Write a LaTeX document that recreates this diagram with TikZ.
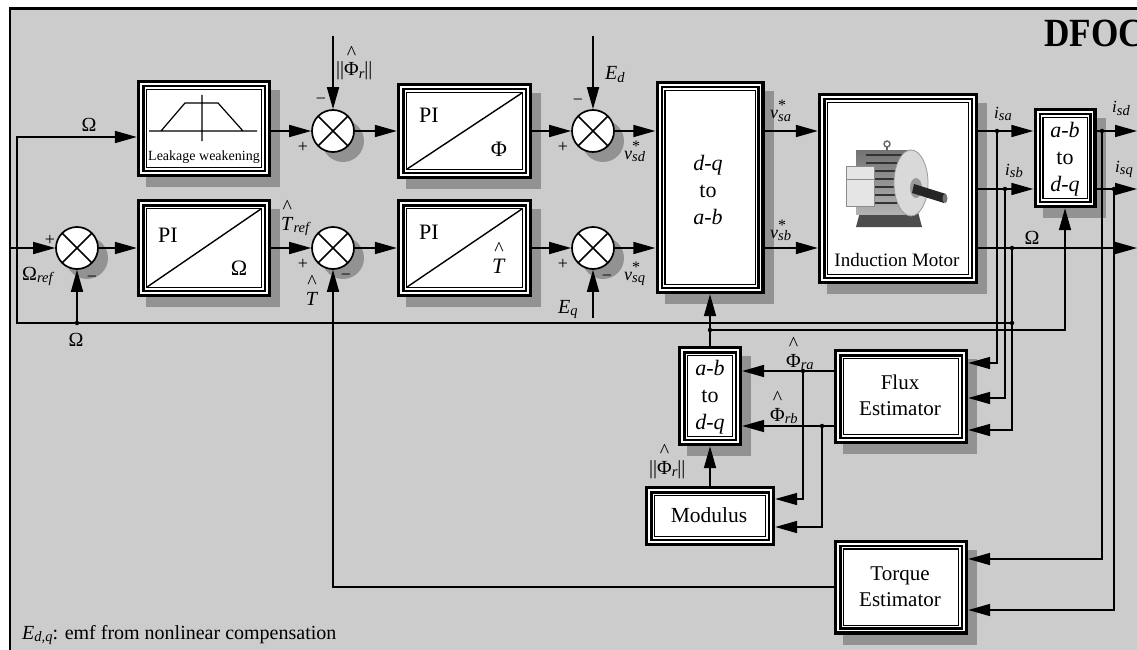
\documentclass[tikz,border=0pt]{standalone}
\usepackage{fontspec}
\setmainfont{Liberation Serif}
\usetikzlibrary{arrows.meta}
\definecolor{bg}{RGB}{204,204,204}
\definecolor{shd}{RGB}{146,146,146}
\newcommand\sbs[1]{\raisebox{-2.5pt}{\fontsize{14.5}{14.5}\selectfont\itshape #1}}
\newcommand\hh[1]{\shortstack{{\fontsize{20}{20}\selectfont\textasciicircum}\\#1}}
\newcommand\vst[2]{{\fontsize{18}{18}\selectfont\textit{#1}}\rlap{\raisebox{8pt}{\fontsize{16}{16}\selectfont *}}\sbs{#2}}
\newcommand\isub[1]{{\fontsize{17}{17}\selectfont\textit{i}}\sbs{#1}}
\newcommand\lay[2]{\fill[#2] ([shift={(#1pt,#1pt)}]path picture bounding box.south west) rectangle ([shift={(-#1pt,-#1pt)}]path picture bounding box.north east);}
\tikzset{
 lw/.style={line width=1.7pt},
 arr/.style={lw, -{Triangle[length=22pt,width=12pt]}},
 layers/.style={path picture={\lay{3.3}{white}\lay{5}{black}\lay{7.5}{white}\lay{8.8}{black}\lay{10}{white}}},
 blk/.style={rectangle, inner sep=0pt, fill=black, layers, preaction={fill=shd, transform canvas={shift={(9pt,-10pt)}}}},
 blkns/.style={rectangle, inner sep=0pt, fill=black, layers},
 sum/.style={circle, minimum size=42pt, inner sep=0pt, fill=white, draw, lw,
   preaction={fill=shd, transform canvas={shift={(10pt,-10pt)}}},
   path picture={\draw[lw] (path picture bounding box.north west) -- (path picture bounding box.south east) (path picture bounding box.north east) -- (path picture bounding box.south west);}},
 dot/.style={circle, fill=black, inner sep=0pt, minimum size=4.5pt},
 lbl/.style={inner sep=0pt, font=\fontsize{20}{22}\selectfont},
 big/.style={inner sep=0pt, font=\fontsize{22}{24}\selectfont},
 pm/.style={inner sep=0pt, font=\fontsize{18}{18}\selectfont},
 stk/.style={inner sep=0pt, align=center, font=\fontsize{22}{27}\selectfont},
}
\begin{document}
\begin{tikzpicture}[x=1pt,y=-1pt]
\useasboundingbox (0,0) rectangle (1137,650);
\fill[white] (0,0) rectangle (1137,650);
\fill[bg] (10,8.5) rectangle (1137,650);
\draw[line width=2.2pt] (10,655) -- (10,8.5) -- (1145,8.5);

% blocks
\node[blk, minimum width=134pt, minimum height=97pt] (leak) at (204,128.5) {};
\node[blk, minimum width=135pt, minimum height=96pt] (pif) at (464.5,131) {};
\node[blk, minimum width=134pt, minimum height=98pt] (pio) at (204,248) {};
\node[blk, minimum width=135pt, minimum height=98pt] (pit) at (464.5,248) {};
\node[blk, minimum width=109pt, minimum height=213pt] (dqab) at (710,187.5) {};
\node[blk, minimum width=160pt, minimum height=191pt] (motor) at (898,188.5) {};
\node[blk, minimum width=63pt, minimum height=100pt] (abdqA) at (1065,158) {};
\node[blk, minimum width=64pt, minimum height=100pt] (abdqB) at (710,396) {};
\node[blk, minimum width=134pt, minimum height=95pt] (flux) at (901,396.5) {};
\node[blkns, minimum width=130pt, minimum height=60pt] (modl) at (710,516) {};
\node[blk, minimum width=134pt, minimum height=95pt] (torq) at (901,587) {};

% summing junctions
\node[sum] (s0) at (77,248) {};
\node[sum] (s1) at (333,131) {};
\node[sum] (s2) at (593,131) {};
\node[sum] (s3) at (333,248) {};
\node[sum] (s4) at (593,248) {};

% leakage weakening graphic
\draw[line width=1.2pt] (149,131) -- (257,131) (202,95) -- (202,141) (161,131) -- (185,103) -- (218,103) -- (243,131);
\node[inner sep=0pt, font=\fontsize{14}{14}\selectfont] (leaktxt) at (204,157) {Leakage weakening};

% PI diagonals
\foreach \b in {pif,pio,pit}{
  \draw[line width=1.4pt] ([shift={(10pt,10pt)}]\b.south west) -- ([shift={(-10pt,-10pt)}]\b.north east);
}

% motor picture
\fill[black!70] (860,212) -- (918,212) -- (922,227) -- (856,227) -- cycle;
\shade[top color=black!55, bottom color=black!30] (856,150) rectangle (912,214);
\foreach \yy in {155,163,...,207} \draw[black!80, line width=2.2pt] (866,\yy) -- (906,\yy);
\fill[black!10] (846,166) rectangle (874,206);
\draw[black!45, line width=0.8pt] (846,166) rectangle (874,206) (846,179) -- (874,179);
\fill[black!15] (911,183) ellipse (17 and 33);
\draw[black!40, line width=0.8pt] (911,183) ellipse (17 and 33);
\fill[black!40] (916,188) ellipse (6 and 10);
\fill[black!85] (914,184) -- (946,194) -- (944,203) -- (912,193) -- cycle;
\fill[black!55] (945,198.5) ellipse (2.5 and 4.5);
\draw[black!60, line width=1.4pt] (887,144) circle (3);
\draw[black!60, line width=1.4pt] (887,147) -- (887,151);

% coordinates
\coordinate (rowD) at (0,131);
\coordinate (rowQ) at (0,248);
\coordinate (rowB) at (0,189);
\coordinate (rowIn) at (0,137);
\coordinate (fa) at (0,363);
\coordinate (fbb) at (0,398);
\coordinate (fc) at (0,430);
\coordinate (pa) at (0,371);
\coordinate (pb) at (0,426);
\coordinate (ma) at (0,499);
\coordinate (mb) at (0,527);
\coordinate (ta) at (0,559);
\coordinate (tb) at (0,610);
\coordinate (inL) at (10,248);
\coordinate (jOm) at (1012,248);
\coordinate (jFb) at (1012,323);
\coordinate (jS0) at (77,323);
\coordinate (cL) at (17,323);
\coordinate (cT) at (17,137);
\coordinate (phiIn) at (333,36);
\coordinate (edIn) at (593,36);
\coordinate (eqIn) at (593,318);
\coordinate (outO) at (1137,248);
\coordinate (outD) at (1137,131);
\coordinate (outQ) at (1137,189);
\coordinate (jA) at (997,131);
\coordinate (jB) at (1005,189);
\coordinate (jD) at (1102,131);
\coordinate (jQ) at (1114,189);
\coordinate (jPa) at (803,371);
\coordinate (jPb) at (822,426);
\coordinate (jTh) at (710,330);

% connectors
\draw[arr] (inL) -- (s0);
\draw[arr] (jFb) -- (cL) -- (cT) -- (leak.west |- rowIn);
\draw[arr] (jS0) -- (s0);
\draw[arr] (leak.east |- rowD) -- (s1);
\draw[arr] (s1) -- (pif);
\draw[arr] (phiIn) -- (s1);
\draw[arr] (pif) -- (s2);
\draw[arr] (edIn) -- (s2);
\draw[arr] (s2) -- (dqab.west |- rowD);
\draw[arr] (s0) -- (pio);
\draw[arr] (pio) -- (s3);
\draw[arr] (s3) -- (pit);
\draw[arr] (pit) -- (s4);
\draw[arr] (s4) -- (dqab.west |- rowQ);
\draw[arr] (eqIn) -- (s4);
\draw[arr] (torq.west) -| (s3.south);
\draw[arr] (dqab.east |- rowD) -- (motor.west |- rowD);
\draw[arr] (dqab.east |- rowQ) -- (motor.west |- rowQ);
\draw[arr] (motor.east |- rowD) -- (abdqA.west |- rowD);
\draw[arr] (motor.east |- rowB) -- (abdqA.west |- rowB);
\draw[arr] (motor.east |- rowQ) -- (outO);
\draw[arr] (abdqA.east |- rowD) -- (outD);
\draw[arr] (abdqA.east |- rowB) -- (outQ);
\draw[arr] (jA) |- (flux.east |- fa);
\draw[arr] (jB) |- (flux.east |- fbb);
\draw[arr] (jOm) |- (flux.east |- fc);
\draw[arr] (jD) |- (torq.east |- ta);
\draw[arr] (jQ) |- (torq.east |- tb);
\draw[arr] (flux.west |- pa) -- (abdqB.east |- pa);
\draw[arr] (flux.west |- pb) -- (abdqB.east |- pb);
\draw[arr] (jPa) |- (modl.east |- ma);
\draw[arr] (jPb) |- (modl.east |- mb);
\draw[arr] (modl) -- (abdqB);
\draw[arr] (abdqB) -- (dqab);
\draw[arr] (jTh) -| (abdqA.south);

% dots
\foreach \p in {jOm,jFb,jS0,jA,jB,jD,jQ,jPa,jPb,jTh}{\node[dot] (dot-\p) at (\p) {};}

% block texts
\node[big] (pifPI) at (429,115) {PI};
\node[big] (pifPhi) at (499,149) {Φ};
\node[big] (pioPI) at (168,235) {PI};
\node[big] (pioOm) at (239,268) {Ω};
\node[big] (pitPI) at (429,232) {PI};
\node[big, anchor=base] (pitT) at (499,273) {\hh{\textit{T}}};
\node[stk] (dqabtxt) at (708,190) {\textit{d-q}\\to\\\textit{a-b}};
\node[stk] (abdqAtxt) at (1065,159.5) {\textit{a-b}\\to\\\textit{d-q}};
\node[stk] (abdqBtxt) at (710,397) {\textit{a-b}\\to\\\textit{d-q}};
\node[stk, font=\fontsize{21}{26}\selectfont] (fluxtxt) at (900,395) {Flux\\Estimator};
\node[stk, font=\fontsize{21}{26}\selectfont] (torqtxt) at (900,586.5) {Torque\\Estimator};
\node[inner sep=0pt, font=\fontsize{21.5}{22}\selectfont] (modltxt) at (709,515) {Modulus};
\node[inner sep=0pt, font=\fontsize{19}{22}\selectfont] (motortxt) at (897,260) {Induction Motor};

% signal labels
\node[lbl] (lOmTop) at (89,125) {Ω};
\node[pm] (p0) at (50,240) {+};
\node[pm] (m0) at (92,279) {−};
\node[lbl, anchor=base west] (lOmRef) at (22,280) {Ω\sbs{ref}};
\node[lbl] (lOmBot) at (76,340) {Ω};
\node[pm] (m1) at (321,101) {−};
\node[pm] (p1) at (303,147) {+};
\node[lbl, anchor=base west] (lFlux) at (336,76) {||\hh{Φ}\sbs{r}||};
\node[pm] (m2) at (578,102) {−};
\node[pm] (p2) at (563,147) {+};
\node[lbl, anchor=base west] (lEd) at (605,80) {\textit{E}\sbs{d}};
\node[lbl, anchor=base west] (lvsd) at (624,159) {\vst{v}{sd}};
\node[lbl, anchor=base west] (lTref) at (281,230) {\hh{\textit{T}}\sbs{ref}};
\node[pm] (p3) at (303,264) {+};
\node[pm] (m3) at (346,277) {−};
\node[lbl, anchor=base] (lT) at (312,305) {\hh{\textit{T}}};
\node[pm] (p4) at (563,264) {+};
\node[pm] (m4) at (607,278) {−};
\node[lbl, anchor=base west] (lEq) at (558,313) {\textit{E}\sbs{q}};
\node[lbl, anchor=base west] (lvsq) at (624,280) {\vst{v}{sq}};
\node[lbl, anchor=base west] (lvsa) at (770,119) {\vst{v}{sa}};
\node[lbl, anchor=base west] (lvsb) at (770,238) {\vst{v}{sb}};
\node[lbl, anchor=base west] (lisa) at (994,118) {\isub{sa}};
\node[lbl, anchor=base west] (lisb) at (1005,175) {\isub{sb}};
\node[lbl] (lOmR) at (1032,238) {Ω};
\node[lbl, anchor=base west] (lisd) at (1112,113) {\isub{sd}};
\node[lbl, anchor=base west] (lisq) at (1115,172) {\isub{sq}};
\node[lbl, anchor=base west] (lPra) at (786,367) {\hh{Φ}\sbs{ra}};
\node[lbl, anchor=base west] (lPrb) at (770,421) {\hh{Φ}\sbs{rb}};
\node[lbl, anchor=base west] (lMod) at (649,474) {||\hh{Φ}\sbs{r}||};

% title and caption
\node[anchor=base west, inner sep=0pt, font=\bfseries\fontsize{40}{40}\selectfont] (title) at (1044,47) {\scalebox{0.88}[1]{DFOC}};
\node[anchor=base west, inner sep=0pt, font=\fontsize{20}{22}\selectfont] (cap) at (22,639) {\textit{E}\sbs{d,q}: emf from nonlinear compensation};
\end{tikzpicture}
\end{document}
